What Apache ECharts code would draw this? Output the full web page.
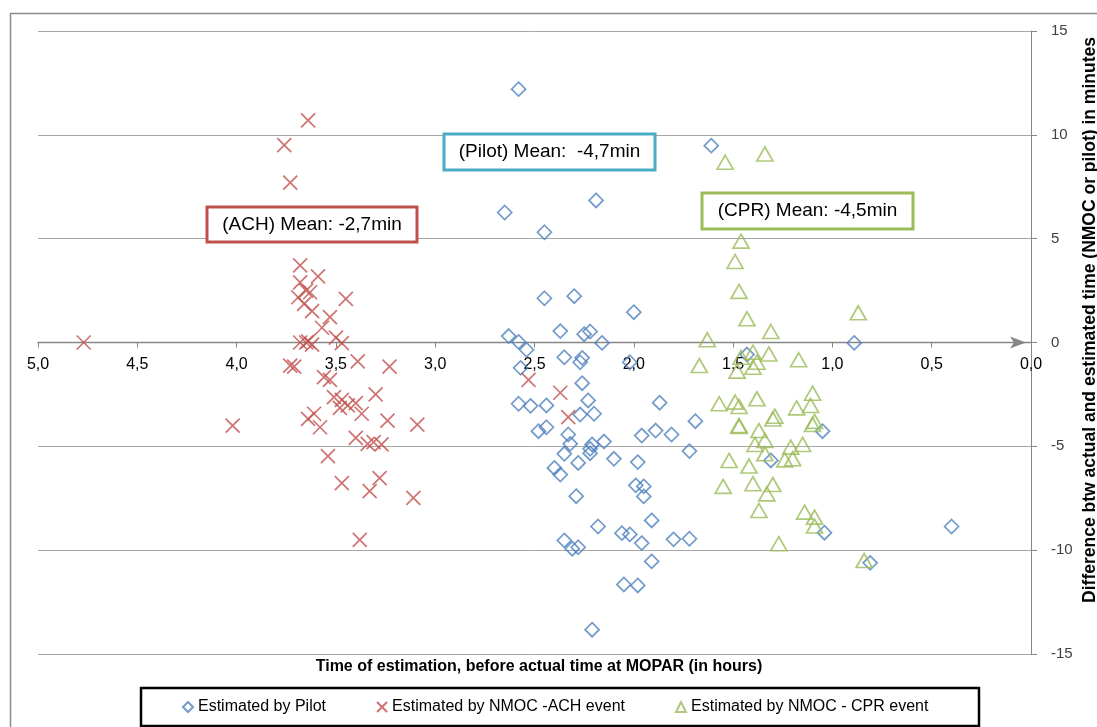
<!DOCTYPE html>
<html>
<head>
<meta charset="utf-8">
<script src="https://cdn.jsdelivr.net/npm/echarts@6/dist/echarts.min.js"></script>
<style>
html, body { margin: 0; padding: 0; background: #fff; }
#chart { width: 1097px; height: 727px; }
</style>
</head>
<body>
<div id="chart"></div>
<script>
// x = hours before actual time at MOPAR, y = difference in minutes
const pilotPoints = [
  [2.58, 12.2], [2.65, 6.26], [2.45, 5.31], [2.45, 2.13], [2.30, 2.23], [2.00, 1.46],
  [2.37, 0.55], [2.25, 0.40], [2.22, 0.53], [2.16, -0.02], [0.89, -0.02], [2.63, 0.31],
  [2.58, 0.03], [2.54, -0.35], [1.61, 9.48], [2.19, 6.84], [2.35, -0.71], [2.26, -0.74],
  [2.27, -0.95], [2.02, -0.95], [2.57, -1.22], [2.26, -1.96], [2.23, -2.79], [2.58, -2.95],
  [2.52, -3.05], [2.44, -3.03], [2.27, -3.47], [2.20, -3.43], [2.48, -4.27], [2.44, -4.08],
  [2.33, -4.43], [2.32, -4.88], [2.35, -5.36], [2.21, -4.91], [2.15, -4.77], [2.22, -5.33],
  [2.10, -5.60], [1.96, -4.48], [1.89, -4.24], [1.87, -2.90], [1.98, -5.76], [2.28, -5.80],
  [2.40, -6.04], [2.37, -6.36], [2.29, -7.40], [1.99, -6.88], [1.95, -6.93], [1.95, -7.41],
  [1.91, -8.57], [2.18, -8.86], [2.06, -9.18], [2.02, -9.24], [1.96, -9.66], [2.35, -9.53],
  [2.31, -9.93], [2.28, -9.86], [1.91, -10.54], [2.05, -11.65], [1.98, -11.70], [2.21, -13.83],
  [1.69, -3.79], [1.81, -4.43], [1.72, -5.23], [1.31, -5.68], [1.05, -4.27], [1.80, -9.48],
  [1.72, -9.45], [1.04, -9.16], [0.40, -8.86], [0.81, -10.61], [1.43, -0.58], [2.22, -5.12]
];
const achPoints = [
  [4.77, 0], [3.64, 10.7], [3.76, 9.5], [3.73, 7.7], [3.68, 3.71], [3.68, 2.90], [3.59, 3.18],
  [3.65, 2.50], [3.69, 2.18], [3.63, 2.42], [3.66, 1.86], [3.62, 1.51], [3.45, 2.10], [3.53, 1.22],
  [3.57, 0.71], [3.50, 0.23], [3.47, -0.03], [3.68, 0], [3.65, 0], [3.62, -0.1], [3.64, 0.05],
  [3.73, -1.11], [3.71, -1.16], [3.39, -0.91], [3.23, -1.16], [3.56, -1.67], [3.53, -1.80],
  [3.30, -2.50], [3.51, -2.63], [3.47, -2.76], [3.44, -3.03], [3.40, -2.92], [3.37, -3.43],
  [3.48, -3.15], [3.64, -3.68], [3.61, -3.43], [3.58, -4.08], [3.24, -3.76], [3.09, -3.95],
  [4.02, -4.00], [3.40, -4.59], [3.34, -4.88], [3.27, -4.91], [3.31, -4.80], [3.54, -5.47],
  [3.47, -6.77], [3.28, -6.53], [3.33, -7.16], [3.11, -7.48], [3.38, -9.50], [2.53, -1.80],
  [2.37, -2.42], [2.33, -3.59]
];
const cprPoints = [
  [1.54, 8.68], [1.34, 9.08], [1.46, 4.88], [1.49, 3.90], [1.47, 2.46], [1.43, 1.14], [0.87, 1.43],
  [1.31, 0.53], [1.63, 0.13], [1.67, -1.11], [1.46, -0.71], [1.40, -0.47], [1.32, -0.55],
  [1.38, -0.95], [1.40, -1.19], [1.48, -1.38], [1.17, -0.83], [1.57, -2.95], [1.49, -2.87],
  [1.47, -3.08], [1.38, -2.71], [1.10, -2.44], [1.11, -3.03], [1.18, -3.15], [1.30, -3.68],
  [1.29, -3.55], [1.47, -4.04], [1.10, -3.95], [1.09, -3.80], [1.37, -4.24], [1.34, -4.72],
  [1.39, -4.91], [1.21, -5.04], [1.15, -4.91], [1.34, -5.36], [1.24, -5.65], [1.20, -5.60],
  [1.52, -5.68], [1.42, -5.95], [1.55, -6.93], [1.40, -6.80], [1.30, -6.84], [1.33, -7.29],
  [1.37, -8.09], [1.14, -8.17], [1.09, -8.41], [1.09, -8.84], [1.27, -9.69], [0.84, -10.50],
  [1.47, -4.0]
];
const seriesNames = ['Estimated by Pilot', 'Estimated by NMOC -ACH event', 'Estimated by NMOC - CPR event'];
const meanLabels = ['(Pilot) Mean:  -4,7min', '(ACH) Mean: -2,7min', '(CPR) Mean: -4,5min'];
const xTitle = 'Time of estimation, before actual time at MOPAR (in hours)';
const yTitle = 'Difference btw actual and estimated time (NMOC or pilot) in minutes';

const FONT = '"Liberation Sans", Arial, sans-serif';
const AXIS_GREY = '#868686';

const chart = echarts.init(document.getElementById('chart'));

// boxed annotation: rect + centred text
function noteBox(x, y, w, h, color, text) {
  return [
    {
      type: 'rect', z: 100,
      shape: { x: x, y: y, width: w, height: h },
      style: { fill: '#fff', stroke: color, lineWidth: 3 }
    },
    {
      type: 'text', z: 101, x: x + w / 2, y: y + h / 2,
      style: {
        text: text, fill: '#000', fontSize: 19, fontFamily: FONT,
        align: 'center', verticalAlign: 'middle'
      }
    }
  ];
}

chart.setOption({
  animation: false,
  grid: { left: 38, right: 66, top: 31, bottom: 73 },
  xAxis: {
    type: 'value',
    inverse: true,
    min: 0,
    max: 5,
    interval: 0.5,
    // axis drawn through y = 0 (grid is 623px tall, so zero sits 311.5px above the bottom)
    offset: -311.5,
    axisLine: {
      onZero: false,
      lineStyle: { color: AXIS_GREY, width: 1.3 },
      symbol: ['none', 'arrow'],
      symbolSize: [9, 16],
      symbolOffset: [0, -5]
    },
    axisTick: { show: true, length: 5, lineStyle: { color: AXIS_GREY } },
    axisLabel: {
      color: '#000', fontSize: 16, fontFamily: FONT, margin: 14,
      formatter: v => v.toFixed(1).replace('.', ',')
    },
    splitLine: { show: false }
  },
  yAxis: {
    type: 'value',
    position: 'right',
    min: -15,
    max: 15,
    interval: 5,
    axisLine: { show: true, onZero: false, lineStyle: { color: AXIS_GREY } },
    axisTick: { show: true, length: 6, lineStyle: { color: AXIS_GREY } },
    axisLabel: { color: '#404040', fontSize: 15, fontFamily: FONT, margin: 20 },
    splitLine: { lineStyle: { color: '#a6a6a6', width: 1 } }
  },
  legend: {
    left: 177,
    top: 694,
    itemWidth: 10,
    itemHeight: 10,
    itemGap: 50,
    textStyle: { fontSize: 16, fontFamily: FONT, color: '#000' },
    data: seriesNames
  },
  series: [
    {
      name: seriesNames[0], type: 'scatter', symbol: 'diamond', symbolSize: 14,
      itemStyle: { color: 'rgba(255,255,255,0)', borderColor: '#4F81BD', borderWidth: 1.7 },
      data: pilotPoints
    },
    {
      name: seriesNames[1], type: 'scatter', symbol: 'path://M0,0L10,10M10,0L0,10', symbolSize: 14,
      itemStyle: { color: 'rgba(255,255,255,0)', borderColor: '#C0504D', borderWidth: 1.7 },
      data: achPoints
    },
    {
      name: seriesNames[2], type: 'scatter', symbol: 'triangle', symbolSize: [16, 14],
      itemStyle: { color: 'rgba(255,255,255,0)', borderColor: '#9BBB59', borderWidth: 1.7 },
      data: cprPoints
    }
  ],
  graphic: [
    // chart area frame
    {
      type: 'rect', z: -1, silent: true,
      shape: { x: 10.5, y: 13.5, width: 1200, height: 800 },
      style: { fill: 'none', stroke: '#8c8c8c', lineWidth: 1.5 }
    },
    // legend frame
    {
      type: 'rect', z: 1,
      shape: { x: 141, y: 688, width: 838, height: 38 },
      style: { fill: 'none', stroke: '#000', lineWidth: 2.5 }
    },
    {
      type: 'text', x: 539, y: 667,
      style: {
        text: xTitle, fill: '#000', fontSize: 16, fontWeight: 'bold', fontFamily: FONT,
        align: 'center', verticalAlign: 'middle'
      }
    },
    {
      type: 'text', x: 1090, y: 320, rotation: Math.PI / 2,
      style: {
        text: yTitle, fill: '#000', fontSize: 17.5, fontWeight: 'bold', fontFamily: FONT,
        align: 'center', verticalAlign: 'middle'
      }
    },
    ...noteBox(444, 134, 211, 36, '#4BACC6', meanLabels[0]),
    ...noteBox(207, 207, 210, 35, '#C0504D', meanLabels[1]),
    ...noteBox(702, 193, 211, 36, '#9BBB59', meanLabels[2])
  ]
});
</script>
</body>
</html>
